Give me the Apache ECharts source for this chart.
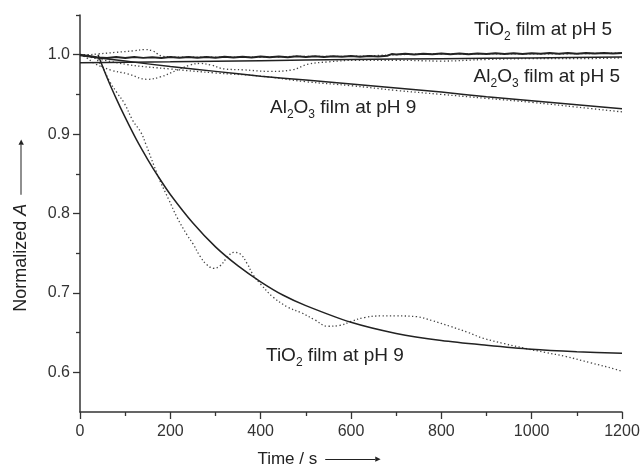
<!DOCTYPE html>
<html>
<head>
<meta charset="utf-8">
<script src="https://cdn.jsdelivr.net/npm/echarts@6/dist/echarts.min.js"></script>
<style>
html,body{margin:0;padding:0;background:#fff;}
#chart{width:642px;height:468px;}
</style>
</head>
<body>
<div id="chart"></div>
<script>
// ---- data (time in s, normalized absorbance) ----
const xTicks = [0, 200, 400, 600, 800, 1000, 1200];
const yTickLabels = [0.6, 0.7, 0.8, 0.9, 1.0];
const yMinorTicks = [0.65, 0.75, 0.85, 0.95, 1.05];

const tio2pH5Data = [
  [0,1.0000],[20,0.9985],[40,0.9966],[60,0.9957],[80,0.9970],[100,0.9959],[120,0.9971],[140,0.9960],
  [160,0.9969],[180,0.9958],[200,0.9970],[220,0.9961],[240,0.9972],[260,0.9962],[280,0.9970],[300,0.9961],
  [320,0.9973],[340,0.9964],[360,0.9974],[380,0.9965],[400,0.9976],[420,0.9967],[440,0.9977],[460,0.9968],
  [480,0.9979],[500,0.9970],[520,0.9980],[540,0.9972],[560,0.9982],[580,0.9973],[600,0.9983],[620,0.9975],
  [640,0.9985],[660,0.9977],[680,0.9987],[690,1.0008],[700,1.0002],[720,1.0012],[740,1.0004],[760,1.0013],
  [780,1.0005],[800,1.0014],[820,1.0006],[840,1.0015],[860,1.0007],[880,1.0016],[900,1.0008],[920,1.0017],
  [940,1.0009],[960,1.0018],[980,1.0010],[1000,1.0019],[1020,1.0011],[1040,1.0020],[1060,1.0012],[1080,1.0021],
  [1100,1.0013],[1120,1.0022],[1140,1.0014],[1160,1.0022],[1180,1.0015],[1200,1.0021]
];
const tio2pH5Dotted = [
  [0,1.000],[17,1.000],[40,1.001],[80,1.003],[120,1.005],[143,1.0065],[160,1.005],[172,1.001],[182,0.998],
  [220,0.997],[300,0.997],[400,0.997],[500,0.998],[600,0.998],[700,1.000],[800,1.001],[1000,1.001],[1200,1.002]
];
const al2o3pH5Fit = [
  [0,0.990],[200,0.991],[400,0.9925],[600,0.994],[800,0.995],[1000,0.996],[1200,0.997]
];
const al2o3pH5Data = [
  [0,1.000],[15,0.996],[32,0.989],[69,0.9805],[105,0.976],[149,0.969],[178,0.972],[215,0.9805],
  [244,0.987],[266,0.989],[290,0.987],[320,0.982],[360,0.981],[420,0.979],[470,0.981],[505,0.988],
  [550,0.991],[614,0.993],[700,0.993],[800,0.992],[900,0.994],[1000,0.995],[1100,0.995],[1200,0.996]
];
const al2o3pH9Fit = [
  [0,0.999],[100,0.992],[200,0.985],[300,0.979],[400,0.973],[500,0.968],[600,0.963],
  [700,0.958],[800,0.953],[900,0.947],[1000,0.942],[1100,0.937],[1200,0.932]
];
const al2o3pH9Data = [
  [0,1.000],[100,0.988],[200,0.982],[300,0.977],[400,0.973],[500,0.966],[600,0.961],
  [700,0.955],[800,0.950],[900,0.945],[1000,0.940],[1100,0.934],[1200,0.928]
];
const tio2pH9Fit = [
  [40,1.000],[60,0.971],[80,0.945],[100,0.921],[125,0.893],[150,0.868],[175,0.845],[200,0.824],
  [250,0.788],[300,0.758],[350,0.734],[400,0.714],[450,0.697],[500,0.684],[600,0.663],[700,0.649],
  [800,0.640],[900,0.634],[1000,0.629],[1100,0.626],[1200,0.624]
];
const tio2pH9Data = [
  [0,1.000],[20,0.999],[35,0.995],[50,0.984],[66,0.966],[82,0.952],[98,0.939],[117,0.917],[135,0.902],
  [146,0.887],[164,0.860],[178,0.840],[197,0.817],[215,0.795],[237,0.773],[250,0.762],[266,0.746],
  [280,0.736],[296,0.731],[310,0.734],[325,0.744],[340,0.751],[355,0.749],[370,0.737],[383,0.723],
  [400,0.711],[427,0.695],[460,0.682],[490,0.675],[520,0.666],[548,0.658],[575,0.659],[600,0.664],
  [630,0.669],[665,0.671],[700,0.671],[746,0.670],[780,0.665],[819,0.658],[860,0.650],[892,0.643],
  [940,0.636],[987,0.630],[1030,0.625],[1075,0.620],[1130,0.612],[1185,0.604],[1200,0.601]
];

// ---- styles ----
const FONT = '"Liberation Sans", Arial, sans-serif';
const INK = '#222';
const solid = (data, w) => ({
  type: 'line', data, showSymbol: false, smooth: 0.3, silent: true,
  lineStyle: { color: INK, width: w || 1.5 }
});
const dotted = (data) => ({
  type: 'line', data, showSymbol: false, smooth: 0.4, silent: true,
  lineStyle: { color: '#444', width: 1.3, type: [1.3, 2.4] }
});

const labelRich = {
  m: { fontSize: 19, fontFamily: FONT, fill: INK, lineHeight: 26 },
  s: { fontSize: 12, fontFamily: FONT, fill: INK, lineHeight: 13, verticalAlign: 'bottom' }
};
const txt = (text, pos) => Object.assign({ type: 'text', silent: true,
  style: { text, rich: labelRich } }, pos);

const chart = echarts.init(document.getElementById('chart'), null, { renderer: 'canvas' });
chart.setOption({
  animation: false,
  backgroundColor: '#fff',
  grid: { left: 80, right: 20, top: 15, bottom: 56, containLabel: false, outerBoundsMode: 'none' },
  xAxis: {
    type: 'value', min: 0, max: 1200, interval: 200,
    name: '{t|Time / s}{g| }{ln| }{hd|▶}',
    nameLocation: 'middle', nameGap: 39,
    nameTextStyle: {
      padding: [0, 64, 0, 0],
      rich: {
        t: { fontSize: 17, fontFamily: FONT, color: INK },
        g: { width: 8 },
        ln: { width: 50, height: 1, backgroundColor: INK },
        hd: { fontSize: 7, color: INK, fontFamily: 'DejaVu Sans' }
      }
    },
    axisLine: { lineStyle: { color: '#333', width: 1.5 } },
    axisTick: { length: 7, lineStyle: { color: '#333', width: 1.3 } },
    minorTick: { show: true, splitNumber: 2, length: 4, lineStyle: { color: '#333', width: 1.3 } },
    axisLabel: { margin: 12, fontSize: 16, fontFamily: FONT, color: '#333',
      customValues: xTicks, formatter: v => String(v) },
    splitLine: { show: false }
  },
  yAxis: [{
    type: 'value', min: 0.55, max: 1.05,
    name: '{t|Normalized }{it|A}{g| }{ln| }{hd|▶}',
    nameLocation: 'middle', nameRotate: 90, nameGap: 50,
    nameTextStyle: {
      padding: [0, 24, 0, 0],
      rich: {
        t: { fontSize: 18, fontFamily: FONT, color: INK },
        it: { fontSize: 18, fontFamily: FONT, color: INK, fontStyle: 'italic' },
        g: { width: 9 },
        ln: { width: 50, height: 1, backgroundColor: INK },
        hd: { fontSize: 7, color: INK, fontFamily: 'DejaVu Sans' }
      }
    },
    axisLine: { show: true, lineStyle: { color: '#333', width: 1.5 } },
    axisTick: { show: true, length: 7, customValues: yTickLabels, lineStyle: { color: '#333', width: 1.3 } },
    axisLabel: { margin: 10, fontSize: 16, fontFamily: FONT, color: '#333',
      customValues: yTickLabels, formatter: v => v.toFixed(1) },
    splitLine: { show: false }
  }, {
    type: 'value', min: 0.55, max: 1.05, position: 'left',
    axisLine: { show: false },
    axisTick: { show: true, length: 4, customValues: yMinorTicks, lineStyle: { color: '#333', width: 1.3 } },
    axisLabel: { show: false },
    splitLine: { show: false }
  }],
  series: [
    dotted(tio2pH5Dotted),
    dotted(al2o3pH5Data),
    dotted(al2o3pH9Data),
    dotted(tio2pH9Data),
    solid(al2o3pH5Fit, 1.5),
    solid(al2o3pH9Fit, 1.5),
    solid(tio2pH9Fit, 1.5),
    Object.assign(solid(tio2pH5Data, 2), { smooth: false })
  ],
  graphic: [
    txt('{m|TiO}{s|2}{m| film at pH 5}', { right: 30, top: 20 }),
    txt('{m|Al}{s|2}{m|O}{s|3}{m| film at pH 5}', { right: 22, top: 67 }),
    txt('{m|Al}{s|2}{m|O}{s|3}{m| film at pH 9}', { left: 270, top: 98 }),
    txt('{m|TiO}{s|2}{m| film at pH 9}', { left: 266, top: 346 })
  ]
});
</script>
</body>
</html>
